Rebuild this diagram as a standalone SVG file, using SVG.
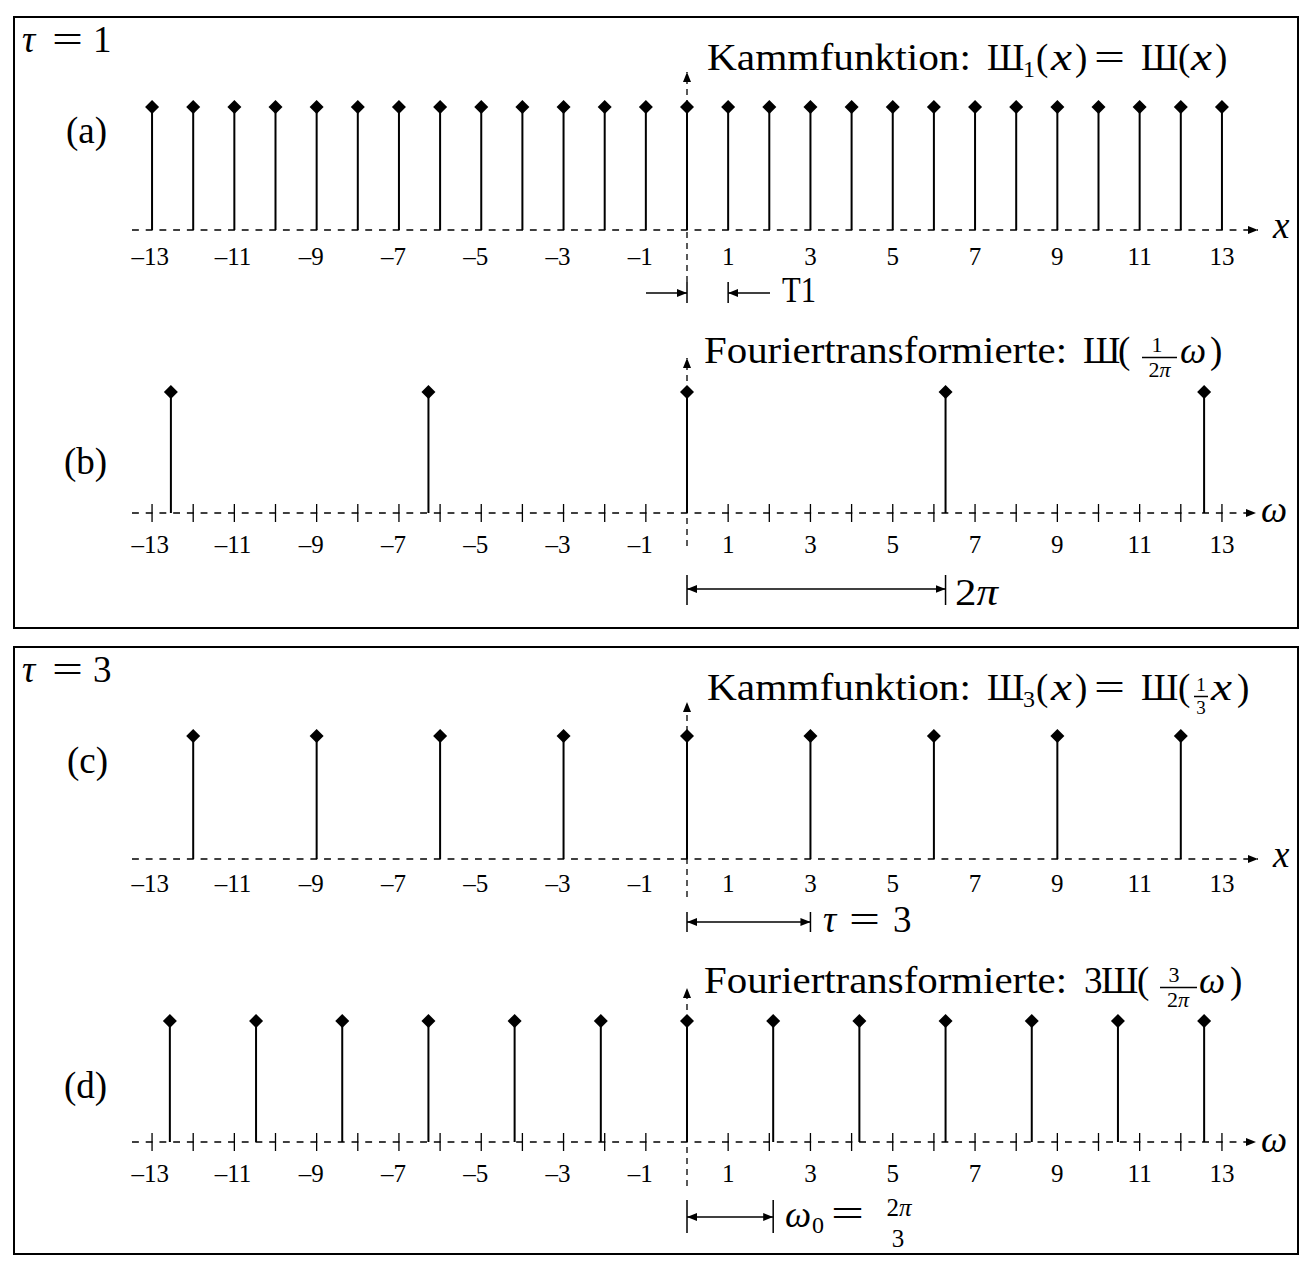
<svg xmlns="http://www.w3.org/2000/svg" xmlns:xlink="http://www.w3.org/1999/xlink" width="1311" height="1270" viewBox="0 0 1311 1270">
<defs>
<style>
.t{font-family:"Liberation Serif","DejaVu Serif",serif;fill:#000}
.m{font-size:37px}
.s{font-size:24px}
.f{font-size:22px}
.n{font-size:25px}
.i{font-style:italic}
.stem{stroke:#000;stroke-width:2;fill:none}
.ax{stroke:#000;stroke-width:1.3;stroke-dasharray:6.86 6.86;fill:none}
.cl{stroke:#000;stroke-width:1.3;stroke-dasharray:6 5;fill:none}
.tk{stroke:#000;stroke-width:1.3;fill:none}
.dim{stroke:#000;stroke-width:1.5;fill:none}
.bar{stroke:#000;stroke-width:1.5;fill:none}
.box{fill:none;stroke:#000;stroke-width:2}
</style>
<marker id="ah" viewBox="0 0 10 8" refX="10" refY="4" markerWidth="10" markerHeight="8" markerUnits="userSpaceOnUse" orient="auto-start-reverse"><path d="M0,0L10,4L0,8z" fill="#000"/></marker>
<path id="dia" d="M0,-7L7,0L0,7L-7,0Z" fill="#000"/>
</defs>
<rect width="1311" height="1270" fill="#fff"/>

<g id="frame-tau1">
<rect class="box" x="14" y="17" width="1284" height="611"/>
<text class="t m" y="52"><tspan class="i" x="22">τ</tspan><tspan x="52" textLength="31" lengthAdjust="spacingAndGlyphs">=</tspan><tspan x="93">1</tspan></text>
</g>
<g id="frame-tau3">
<rect class="box" x="14" y="647" width="1284" height="607"/>
<text class="t m" y="682"><tspan class="i" x="22">τ</tspan><tspan x="52" textLength="31" lengthAdjust="spacingAndGlyphs">=</tspan><tspan x="93">3</tspan></text>
</g>

<!-- Panel (a) -->
<g id="panel-a">
<text class="t m" x="66" y="143">(a)</text>
<line class="ax" x1="132" y1="230" x2="1258" y2="230" marker-end="url(#ah)"/>
<line class="cl" x1="687" y1="282" x2="687" y2="72" marker-end="url(#ah)"/>
<path class="stem" d="M152.05 107V230M193.2 107V230M234.35 107V230M275.5 107V230M316.65 107V230M357.8 107V230M398.95 107V230M440.1 107V230M481.25 107V230M522.4 107V230M563.55 107V230M604.7 107V230M645.85 107V230M687 107V230M728.15 107V230M769.3 107V230M810.45 107V230M851.6 107V230M892.75 107V230M933.9 107V230M975.05 107V230M1016.2 107V230M1057.35 107V230M1098.5 107V230M1139.65 107V230M1180.8 107V230M1221.95 107V230"/>
<g>
<use href="#dia" x="152.05" y="107"/><use href="#dia" x="193.2" y="107"/><use href="#dia" x="234.35" y="107"/><use href="#dia" x="275.5" y="107"/><use href="#dia" x="316.65" y="107"/><use href="#dia" x="357.8" y="107"/><use href="#dia" x="398.95" y="107"/><use href="#dia" x="440.1" y="107"/><use href="#dia" x="481.25" y="107"/><use href="#dia" x="522.4" y="107"/><use href="#dia" x="563.55" y="107"/><use href="#dia" x="604.7" y="107"/><use href="#dia" x="645.85" y="107"/><use href="#dia" x="687" y="107"/><use href="#dia" x="728.15" y="107"/><use href="#dia" x="769.3" y="107"/><use href="#dia" x="810.45" y="107"/><use href="#dia" x="851.6" y="107"/><use href="#dia" x="892.75" y="107"/><use href="#dia" x="933.9" y="107"/><use href="#dia" x="975.05" y="107"/><use href="#dia" x="1016.2" y="107"/><use href="#dia" x="1057.35" y="107"/><use href="#dia" x="1098.5" y="107"/><use href="#dia" x="1139.65" y="107"/><use href="#dia" x="1180.8" y="107"/><use href="#dia" x="1221.95" y="107"/>
</g>
<text class="t m i" x="1273" y="238">x</text>
<g class="t n">
<text y="265" text-anchor="end"><tspan x="169">–13</tspan><tspan x="251.35">–11</tspan><tspan x="323.65">–9</tspan><tspan x="405.95">–7</tspan><tspan x="488.25">–5</tspan><tspan x="570.55">–3</tspan><tspan x="652.85">–1</tspan></text>
<text y="265" text-anchor="middle"><tspan x="728.15">1</tspan><tspan x="810.45">3</tspan><tspan x="892.75">5</tspan><tspan x="975.05">7</tspan><tspan x="1057.35">9</tspan><tspan x="1139.65">11</tspan><tspan x="1221.95">13</tspan></text>
</g>
<g class="t">
<text class="m" x="707" y="70" textLength="264" lengthAdjust="spacingAndGlyphs">Kammfunktion:</text>
<text class="m" x="987" y="70">Ш</text>
<text class="s" x="1023" y="77">1</text>
<text class="m" x="1036" y="70">(</text>
<text class="m i" x="1051" y="70" textLength="21" lengthAdjust="spacingAndGlyphs">x</text>
<text class="m" x="1075" y="70">)</text>
<text class="m" x="1094" y="70" textLength="31" lengthAdjust="spacingAndGlyphs">=</text>
<text class="m" x="1141" y="70">Ш</text>
<text class="m" x="1178" y="70">(</text>
<text class="m i" x="1191" y="70" textLength="21" lengthAdjust="spacingAndGlyphs">x</text>
<text class="m" x="1215" y="70">)</text>
</g>
</g>

<!-- Panel (b) -->
<g id="panel-b">
<text class="t m" x="64" y="474">(b)</text>
<line class="ax" x1="132" y1="513" x2="1256" y2="513" marker-end="url(#ah)"/>
<line class="cl" x1="687" y1="546" x2="687" y2="358" marker-end="url(#ah)"/>
<path class="tk" d="M152.05 504V522M193.2 504V522M234.35 504V522M275.5 504V522M316.65 504V522M357.8 504V522M398.95 504V522M440.1 504V522M481.25 504V522M522.4 504V522M563.55 504V522M604.7 504V522M645.85 504V522M728.15 504V522M769.3 504V522M810.45 504V522M851.6 504V522M892.75 504V522M933.9 504V522M975.05 504V522M1016.2 504V522M1057.35 504V522M1098.5 504V522M1139.65 504V522M1180.8 504V522M1221.95 504V522"/>
<path class="stem" d="M170.9 392V513M428.45 392V513M687 392V513M945.55 392V513M1204.1 392V513"/>
<use href="#dia" x="170.9" y="392"/><use href="#dia" x="428.45" y="392"/><use href="#dia" x="687" y="392"/><use href="#dia" x="945.55" y="392"/><use href="#dia" x="1204.1" y="392"/>
<text class="t m i" x="1261" y="522">ω</text>
<g class="t n">
<text y="553" text-anchor="end"><tspan x="169">–13</tspan><tspan x="251.35">–11</tspan><tspan x="323.65">–9</tspan><tspan x="405.95">–7</tspan><tspan x="488.25">–5</tspan><tspan x="570.55">–3</tspan><tspan x="652.85">–1</tspan></text>
<text y="553" text-anchor="middle"><tspan x="728.15">1</tspan><tspan x="810.45">3</tspan><tspan x="892.75">5</tspan><tspan x="975.05">7</tspan><tspan x="1057.35">9</tspan><tspan x="1139.65">11</tspan><tspan x="1221.95">13</tspan></text>
</g>
<g class="t">
<text class="m" x="704" y="363" textLength="363" lengthAdjust="spacingAndGlyphs">Fouriertransformierte:</text>
<text class="m" x="1083" y="363">Ш</text>
<text class="m" x="1118" y="363">(</text>
<text class="f" x="1157" y="352" text-anchor="middle">1</text>
<line class="bar" x1="1142" y1="357.5" x2="1177" y2="357.5"/>
<text class="f" x="1159.5" y="377" text-anchor="middle">2<tspan class="i">π</tspan></text>
<text class="m i" x="1180" y="363">ω</text>
<text class="m" x="1210" y="363">)</text>
</g>
</g>

<!-- Panel (c) -->
<g id="panel-c">
<text class="t m" x="67" y="773">(c)</text>
<line class="ax" x1="132" y1="859" x2="1258" y2="859" marker-end="url(#ah)"/>
<line class="cl" x1="687" y1="897" x2="687" y2="702" marker-end="url(#ah)"/>
<path class="stem" d="M193.2 736V859M316.65 736V859M440.1 736V859M563.55 736V859M687 736V859M810.45 736V859M933.9 736V859M1057.35 736V859M1180.8 736V859"/>
<use href="#dia" x="193.2" y="736"/><use href="#dia" x="316.65" y="736"/><use href="#dia" x="440.1" y="736"/><use href="#dia" x="563.55" y="736"/><use href="#dia" x="687" y="736"/><use href="#dia" x="810.45" y="736"/><use href="#dia" x="933.9" y="736"/><use href="#dia" x="1057.35" y="736"/><use href="#dia" x="1180.8" y="736"/>
<text class="t m i" x="1273" y="867">x</text>
<g class="t n">
<text y="892" text-anchor="end"><tspan x="169">–13</tspan><tspan x="251.35">–11</tspan><tspan x="323.65">–9</tspan><tspan x="405.95">–7</tspan><tspan x="488.25">–5</tspan><tspan x="570.55">–3</tspan><tspan x="652.85">–1</tspan></text>
<text y="892" text-anchor="middle"><tspan x="728.15">1</tspan><tspan x="810.45">3</tspan><tspan x="892.75">5</tspan><tspan x="975.05">7</tspan><tspan x="1057.35">9</tspan><tspan x="1139.65">11</tspan><tspan x="1221.95">13</tspan></text>
</g>
<g class="t">
<text class="m" x="707" y="700" textLength="264" lengthAdjust="spacingAndGlyphs">Kammfunktion:</text>
<text class="m" x="987" y="700">Ш</text>
<text class="s" x="1023" y="707">3</text>
<text class="m" x="1036" y="700">(</text>
<text class="m i" x="1051" y="700" textLength="21" lengthAdjust="spacingAndGlyphs">x</text>
<text class="m" x="1075" y="700">)</text>
<text class="m" x="1094" y="700" textLength="31" lengthAdjust="spacingAndGlyphs">=</text>
<text class="m" x="1141" y="700">Ш</text>
<text class="m" x="1178" y="700">(</text>
<text x="1201" y="691" text-anchor="middle" style="font-size:19px">1</text>
<line class="bar" x1="1194" y1="696.5" x2="1208" y2="696.5"/>
<text x="1201" y="714" text-anchor="middle" style="font-size:19px">3</text>
<text class="m i" x="1211" y="700" textLength="21" lengthAdjust="spacingAndGlyphs">x</text>
<text class="m" x="1237" y="700">)</text>
</g>
</g>

<!-- Panel (d) -->
<g id="panel-d">
<text class="t m" x="64" y="1098">(d)</text>
<line class="ax" x1="132" y1="1142" x2="1256" y2="1142" marker-end="url(#ah)"/>
<line class="cl" x1="687" y1="1186" x2="687" y2="988" marker-end="url(#ah)"/>
<path class="tk" d="M152.05 1133V1151M193.2 1133V1151M234.35 1133V1151M275.5 1133V1151M316.65 1133V1151M357.8 1133V1151M398.95 1133V1151M440.1 1133V1151M481.25 1133V1151M522.4 1133V1151M563.55 1133V1151M604.7 1133V1151M645.85 1133V1151M728.15 1133V1151M769.3 1133V1151M810.45 1133V1151M851.6 1133V1151M892.75 1133V1151M933.9 1133V1151M975.05 1133V1151M1016.2 1133V1151M1057.35 1133V1151M1098.5 1133V1151M1139.65 1133V1151M1180.8 1133V1151M1221.95 1133V1151"/>
<path class="stem" d="M169.86 1021V1142M256.05 1021V1142M342.24 1021V1142M428.43 1021V1142M514.62 1021V1142M600.81 1021V1142M687 1021V1142M773.19 1021V1142M859.38 1021V1142M945.57 1021V1142M1031.76 1021V1142M1117.95 1021V1142M1204.14 1021V1142"/>
<use href="#dia" x="169.86" y="1021"/><use href="#dia" x="256.05" y="1021"/><use href="#dia" x="342.24" y="1021"/><use href="#dia" x="428.43" y="1021"/><use href="#dia" x="514.62" y="1021"/><use href="#dia" x="600.81" y="1021"/><use href="#dia" x="687" y="1021"/><use href="#dia" x="773.19" y="1021"/><use href="#dia" x="859.38" y="1021"/><use href="#dia" x="945.57" y="1021"/><use href="#dia" x="1031.76" y="1021"/><use href="#dia" x="1117.95" y="1021"/><use href="#dia" x="1204.14" y="1021"/>
<text class="t m i" x="1261" y="1152">ω</text>
<g class="t n">
<text y="1182" text-anchor="end"><tspan x="169">–13</tspan><tspan x="251.35">–11</tspan><tspan x="323.65">–9</tspan><tspan x="405.95">–7</tspan><tspan x="488.25">–5</tspan><tspan x="570.55">–3</tspan><tspan x="652.85">–1</tspan></text>
<text y="1182" text-anchor="middle"><tspan x="728.15">1</tspan><tspan x="810.45">3</tspan><tspan x="892.75">5</tspan><tspan x="975.05">7</tspan><tspan x="1057.35">9</tspan><tspan x="1139.65">11</tspan><tspan x="1221.95">13</tspan></text>
</g>
<g class="t">
<text class="m" x="704" y="993" textLength="363" lengthAdjust="spacingAndGlyphs">Fouriertransformierte:</text>
<text class="m" x="1084" y="993">3</text>
<text class="m" x="1101" y="993">Ш</text>
<text class="m" x="1137" y="993">(</text>
<text class="f" x="1174" y="982" text-anchor="middle">3</text>
<line class="bar" x1="1160" y1="987.5" x2="1197" y2="987.5"/>
<text class="f" x="1178" y="1007" text-anchor="middle">2<tspan class="i">π</tspan></text>
<text class="m i" x="1199" y="993">ω</text>
<text class="m" x="1230" y="993">)</text>
</g>
</g>

<!-- Connectors: dimension arrows -->
<g id="connectors">
<path class="dim" d="M687 282V303M728.15 282V303"/>
<line class="dim" x1="646" y1="293" x2="687" y2="293" marker-end="url(#ah)"/>
<line class="dim" x1="770" y1="293" x2="728.15" y2="293" marker-end="url(#ah)"/>
<path class="dim" d="M687 575V605M945.55 575V605"/>
<line class="dim" x1="687" y1="589" x2="945.55" y2="589" marker-start="url(#ah)" marker-end="url(#ah)"/>
<path class="dim" d="M687 912V932M810.45 912V932"/>
<line class="dim" x1="687" y1="922" x2="810.45" y2="922" marker-start="url(#ah)" marker-end="url(#ah)"/>
<path class="dim" d="M687 1200V1233M773.19 1200V1233"/>
<line class="dim" x1="687" y1="1217" x2="773.19" y2="1217" marker-start="url(#ah)" marker-end="url(#ah)"/>
</g>
<g id="dim-labels" class="t">
<text x="782" y="302" style="font-size:35px" textLength="34" lengthAdjust="spacingAndGlyphs">T1</text>
<text class="m" x="955" y="605" textLength="43" lengthAdjust="spacingAndGlyphs">2<tspan class="i">π</tspan></text>
<text class="m" y="932"><tspan class="i" x="823">τ</tspan><tspan x="849" textLength="31" lengthAdjust="spacingAndGlyphs">=</tspan><tspan x="893">3</tspan></text>
<text class="m i" x="785" y="1227">ω</text>
<text class="s" x="812" y="1233">0</text>
<text class="m" x="831" y="1226" textLength="33" lengthAdjust="spacingAndGlyphs">=</text>
<text x="899" y="1216" text-anchor="middle" style="font-size:25px">2<tspan class="i">π</tspan></text>
<text x="898" y="1247" text-anchor="middle" style="font-size:25px">3</text>
</g>
</svg>
